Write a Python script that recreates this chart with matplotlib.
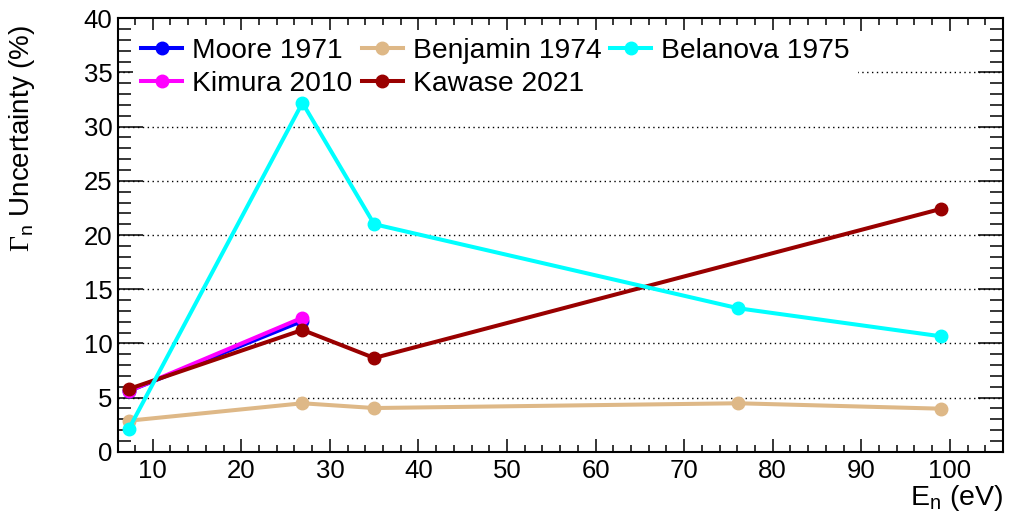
import numpy as np
import matplotlib
matplotlib.use('Agg')
import matplotlib.pyplot as plt
from matplotlib.ticker import MultipleLocator

plt.rcParams['font.family'] = ['Liberation Sans', 'DejaVu Sans']
plt.rcParams['mathtext.fontset'] = 'custom'
plt.rcParams['mathtext.rm'] = 'Liberation Serif'
plt.rcParams['mathtext.sf'] = 'Liberation Sans'

# DATA
moore_x = [7.3, 26.9]
moore_y = [5.6, 12.07]

kimura_x = [7.3, 26.9]
kimura_y = [5.6, 12.37]

benjamin_x = [7.3, 26.9, 35.0, 76.1, 99.0]
benjamin_y = [2.86, 4.47, 4.03, 4.47, 3.97]

kawase_x = [7.3, 26.9, 35.0, 99.0]
kawase_y = [5.79, 11.24, 8.65, 22.41]

belanova_x = [7.3, 26.9, 35.0, 76.1, 99.0]
belanova_y = [2.1, 32.2, 21.0, 13.24, 10.65]

series = [
    ('Moore 1971', moore_x, moore_y, '#0000ff'),
    ('Kimura 2010', kimura_x, kimura_y, '#ff00ff'),
    ('Benjamin 1974', benjamin_x, benjamin_y, '#deb887'),
    ('Kawase 2021', kawase_x, kawase_y, '#990000'),
    ('Belanova 1975', belanova_x, belanova_y, '#00ffff'),
]
draw_order = [2, 4, 0, 1, 3]

fig = plt.figure(figsize=(10.09, 5.13), dpi=100)
ax = fig.add_axes([0.117, 0.1195, 0.877, 0.8448])

lines = {}
for i in draw_order:
    label, xs, ys, color = series[i]
    ln, = ax.plot(xs, ys, '-o', color=color, lw=2.9, ms=9, label=label, zorder=3 + i)
    lines[i] = ln

ax.set_xlim(6.08, 106.0)
ax.set_ylim(0, 40)

for yv in range(5, 40, 5):
    ax.axhline(yv, color='black', lw=1.0, ls=(0, (1, 2.5)), zorder=1)

ax.xaxis.set_major_locator(MultipleLocator(10))
ax.xaxis.set_minor_locator(MultipleLocator(2))
ax.yaxis.set_major_locator(MultipleLocator(5))
ax.yaxis.set_minor_locator(MultipleLocator(1))

ax.tick_params(which='both', direction='in', top=True, right=True, width=1.1, labelsize=18.5)
ax.tick_params(axis='x', which='major', length=9.1, pad=5)
ax.tick_params(axis='x', which='minor', length=4.8)
ax.tick_params(axis='y', which='major', length=18, pad=4)
ax.tick_params(axis='y', which='minor', length=9.4)
for sp in ax.spines.values():
    sp.set_linewidth(1.5)

ax.set_ylabel(r'$\Gamma_{\mathsf{n}}$ Uncertainty (%)', fontsize=20, loc='top')
ax.yaxis.set_label_coords(-0.092, 0.985)
ax.set_xlabel(r'$\mathregular{E_n}$ (eV)', fontsize=20.5, loc='right')
ax.xaxis.set_label_coords(1.0, -0.072)

handles = [lines[i] for i in range(5)]
leg = ax.legend(handles, [s[0] for s in series], ncol=3, fontsize=20.3, loc='upper left',
                bbox_to_anchor=(0.004, 1.0), frameon=True, fancybox=False, edgecolor='none',
                facecolor='white', framealpha=1.0, handlelength=1.45, handletextpad=0.36,
                columnspacing=0.32, labelspacing=0.25, borderpad=0.3, borderaxespad=0.4)
leg.set_zorder(2)

fig.savefig('out.png', dpi=100)
